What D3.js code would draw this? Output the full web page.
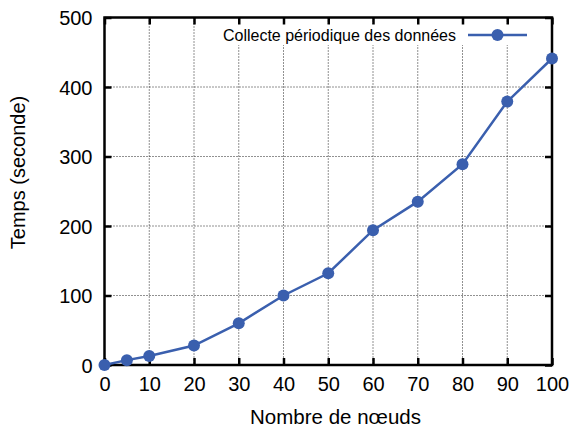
<!DOCTYPE html>
<html>
<head>
<meta charset="utf-8">
<script src="https://cdn.jsdelivr.net/npm/d3@7"></script>
<style>
  html, body { margin: 0; padding: 0; background: #fff; }
  text { font-family: "Liberation Sans", Arial, Helvetica, sans-serif; fill: #000; }
</style>
</head>
<body>
<svg id="chart" width="574" height="428"></svg>
<script>
// Nombre de nœuds vs. temps de collecte
const nodes = [0, 5, 10, 20, 30, 40, 50, 60, 70, 80, 90, 100];
const times = [0, 7, 13, 28, 60, 100, 132, 194, 235, 289, 379, 441];
const xTicks = [0, 10, 20, 30, 40, 50, 60, 70, 80, 90, 100];
const yTicks = [0, 100, 200, 300, 400, 500];
const seriesName = "Collecte périodique des données";
const xTitle = "Nombre de nœuds";
const yTitle = "Temps (seconde)";

const svg = d3.select("#chart");
const plotL = 104.5, plotR = 552, plotT = 17.5, plotB = 365;
const color = "#3a5fae";

const x = d3.scaleLinear().domain([0, 100]).range([plotL, plotR]);
const y = d3.scaleLinear().domain([0, 500]).range([plotB, plotT]);

// dotted grid
const grid = svg.append("g");
grid.selectAll("line.v").data(xTicks.slice(1, -1)).join("line")
  .attr("x1", d => x(d)).attr("x2", d => x(d))
  .attr("y1", plotT).attr("y2", plotB)
  .attr("stroke", "#222").attr("stroke-width", 1).attr("stroke-dasharray", "1,2");
grid.selectAll("line.h").data(yTicks.slice(1, -1)).join("line")
  .attr("x1", plotL).attr("x2", plotR)
  .attr("y1", d => y(d)).attr("y2", d => y(d))
  .attr("stroke", "#222").attr("stroke-width", 1).attr("stroke-dasharray", "1,2");

// legend background hides the grid behind the key
svg.append("rect").attr("x", 212).attr("y", 24).attr("width", 330).attr("height", 21).attr("fill", "#fff");

// axes with inward ticks, mirrored on top and right
const tick = 7;
const axB = svg.append("g").attr("transform", `translate(0,${plotB})`)
  .call(d3.axisBottom(x).tickValues(xTicks).tickSize(-tick).tickPadding(12).tickFormat(d3.format("d")));
const axT = svg.append("g").attr("transform", `translate(0,${plotT})`)
  .call(d3.axisTop(x).tickValues(xTicks).tickSize(-tick).tickFormat(""));
const axL = svg.append("g").attr("transform", `translate(${plotL},0)`)
  .call(d3.axisLeft(y).tickValues(yTicks).tickSize(-tick).tickPadding(12).tickFormat(d3.format("d")));
const axR = svg.append("g").attr("transform", `translate(${plotR},0)`)
  .call(d3.axisRight(y).tickValues(yTicks).tickSize(-tick).tickFormat(""));
[axB, axT, axL, axR].forEach(g => {
  g.select(".domain").remove();
  g.selectAll(".tick line").attr("stroke", "#000").attr("stroke-width", 2.5);
  g.selectAll("text").style("font-size", "20px").attr("fill", "#000")
    .style("font-family", "'Liberation Sans', Arial, Helvetica, sans-serif");
});
axL.selectAll("text").attr("dy", "0.36em");

// frame
svg.append("rect").attr("x", plotL).attr("y", plotT)
  .attr("width", plotR - plotL).attr("height", plotB - plotT)
  .attr("fill", "none").attr("stroke", "#000").attr("stroke-width", 2.5);

// series
const pts = nodes.map((n, i) => [n, times[i]]);
svg.append("path").datum(pts)
  .attr("fill", "none").attr("stroke", color).attr("stroke-width", 2.5)
  .attr("d", d3.line().x(d => x(d[0])).y(d => y(d[1])));
svg.append("g").selectAll("circle").data(pts).join("circle")
  .attr("cx", d => x(d[0])).attr("cy", d => y(d[1])).attr("r", 6)
  .attr("fill", color);

// legend
const ly = 35;
svg.append("text").attr("x", 456).attr("y", ly).attr("dy", "0.35em")
  .attr("text-anchor", "end").style("font-size", "16px").text(seriesName);
svg.append("line").attr("x1", 468).attr("x2", 527).attr("y1", ly).attr("y2", ly)
  .attr("stroke", color).attr("stroke-width", 2.5);
svg.append("circle").attr("cx", 497.5).attr("cy", ly).attr("r", 6).attr("fill", color);

// axis titles
svg.append("text").attr("x", 335.5).attr("y", 424)
  .attr("text-anchor", "middle").style("font-size", "20.5px").text(xTitle);
svg.append("text").attr("transform", `translate(25,172.5) rotate(-90)`)
  .attr("text-anchor", "middle").style("font-size", "20px").text(yTitle);
</script>
</body>
</html>
